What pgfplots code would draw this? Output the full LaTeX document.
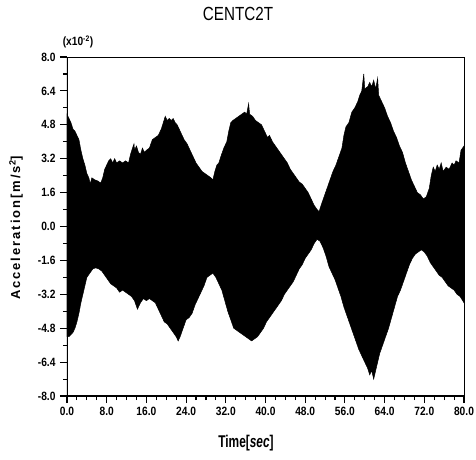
\documentclass[border=0pt]{standalone}
\usepackage{fontspec}
\setmainfont{Liberation Sans}
\newfontfamily\tickfont[FakeStretch=0.85]{Liberation Sans}
\newfontfamily\timefont[FakeStretch=0.7]{Liberation Sans}
\newfontfamily\titlefont[FakeStretch=0.8]{Liberation Sans}
\newfontfamily\labfont[LetterSpace=15]{Liberation Sans}
\usepackage{pgfplots}
\pgfplotsset{compat=1.18}
\begin{document}
\begin{tikzpicture}
\begin{axis}[
  scale only axis, width=397pt, height=339pt,
  xmin=0, xmax=80, ymin=-8, ymax=8,
  xtick={0,8,16,24,32,40,48,56,64,72,80},
  xticklabels={0.0,8.0,16.0,24.0,32.0,40.0,48.0,56.0,64.0,72.0,80.0},
  ytick={-8,-6.4,-4.8,-3.2,-1.6,0,1.6,3.2,4.8,6.4,8},
  yticklabels={-8.0,-6.4,-4.8,-3.2,-1.6,0.0,1.6,3.2,4.8,6.4,8.0},
  minor x tick num=3, minor y tick num=1,
  tick align=outside, xtick pos=bottom, ytick pos=left,
  major tick length=7pt, minor tick length=4pt,
  every tick/.style={black, line width=1.1pt},
  axis line style={line width=0.8pt},
  ticklabel style={font=\tickfont\bfseries\fontsize{12}{12}\selectfont},
  xticklabel style={yshift=-1pt},
  yticklabel style={xshift=-1pt},
  clip=true,
]
\addplot[fill=black, draw=black, line width=0.5pt] coordinates {
(0,5.3)(0.4,5.1)(0.8,4.9)(1.2,4.6)(1.6,4.5)(2.0,4.3)(2.4,4.1)(2.8,3.6)(3.2,3.2)(3.6,2.9)
(4.0,2.5)(4.4,2.3)(4.7,2.0)(5.0,2.3)(5.6,2.2)(6.2,2.15)(6.8,2.05)(7.2,2.3)(7.6,2.7)(8.0,2.9)(8.4,3.1)
(8.8,3.2)(9.2,3.0)(9.6,3.2)(10.0,3.0)(10.6,3.1)(11.2,3.0)(11.8,3.1)(12.4,3.0)(12.8,3.4)(13.2,3.7)
(13.5,3.9)(13.6,3.6)(14.0,3.8)(14.4,3.5)(14.8,3.4)(15.2,3.7)(15.6,3.5)(16.0,3.6)(16.6,3.7)(17.2,4.1)(17.8,4.2)
(18.4,4.3)(19.0,4.6)(19.4,4.9)(19.8,5.2)(20.2,5.0)(20.6,5.1)(21.0,5.0)(21.4,5.1)(21.8,4.9)(22.2,4.8)
(22.6,4.6)(23.0,4.4)(23.6,4.1)(24.2,3.9)(24.8,3.6)(25.4,3.3)(26.0,3.0)(26.6,2.8)(27.2,2.6)(27.8,2.5)
(28.4,2.4)(29.0,2.3)(29.4,2.2)(29.8,2.6)(30.2,2.9)(30.6,3.0)(31.0,3.3)(31.6,3.7)(32.2,4.0)(32.6,4.5)
(33.0,4.9)(33.4,5.0)(34.0,5.1)(34.6,5.2)(35.2,5.3)(35.8,5.4)(36.2,5.3)(36.6,5.8)(36.8,5.3)(37.4,5.2)
(38.0,5.0)(38.6,4.9)(39.2,4.8)(39.8,4.5)(40.4,4.2)(40.8,4.3)(41.4,4.0)(42.0,3.8)(42.6,3.6)(43.2,3.4)
(43.8,3.2)(44.4,3.0)(45.0,2.7)(45.6,2.5)(46.2,2.3)(46.8,2.1)(47.4,2.0)(48.0,1.8)(48.6,1.6)(49.2,1.3)
(49.8,1.0)(50.4,0.8)(50.8,0.7)(51.2,1.0)(51.8,1.4)(52.4,1.8)(53.0,2.2)(53.6,2.6)(54.2,2.9)(54.8,3.3)
(55.4,3.7)(55.8,4.3)(56.2,4.7)(56.8,4.9)(57.4,5.4)(58.0,5.6)(58.6,5.9)(59.0,6.2)(59.4,6.4)(59.8,7.2)
(60.0,6.5)(60.6,6.6)(61.0,6.8)(61.4,6.6)(61.8,6.9)(62.2,6.5)(62.6,7.0)(62.8,6.2)(63.4,5.9)(64.0,5.6)
(64.6,5.2)(65.2,4.9)(65.8,4.5)(66.4,4.2)(67.0,3.8)(67.6,3.5)(68.2,3.0)(68.8,2.6)(69.4,2.2)(70.0,1.9)
(70.6,1.6)(71.2,1.5)(71.8,1.3)(72.4,1.4)(73.0,1.8)(73.4,2.4)(73.8,2.8)(74.2,2.6)(74.6,2.9)(75.0,2.7)
(75.4,3.0)(75.8,2.6)(76.4,2.8)(77.0,2.7)(77.6,3.0)(78.0,2.9)(78.4,3.1)(79.0,3.0)(79.4,3.6)(80,3.8)
(80,-3.6)(79.2,-3.3)(78.6,-3.2)(78.0,-3.0)(77.4,-2.9)(76.8,-2.8)(76.2,-2.6)(75.6,-2.4)(75.0,-2.3)(74.4,-2.1)
(73.8,-1.9)(73.2,-1.7)(72.6,-1.4)(72.0,-1.2)(71.4,-1.1)(70.8,-1.2)(70.2,-1.3)(69.6,-1.5)(69.0,-1.8)(68.4,-2.2)
(67.8,-2.6)(67.2,-3.0)(66.6,-3.3)(66.0,-3.8)(65.4,-4.3)(64.8,-4.8)(64.2,-5.2)(63.6,-5.6)(63.0,-6.0)(62.4,-6.6)
(61.8,-7.2)(61.4,-6.8)(61.0,-7.0)(60.6,-6.7)(60.0,-6.4)(59.4,-6.1)(58.8,-5.8)(58.2,-5.4)(57.6,-5.0)(57.0,-4.6)
(56.4,-4.2)(55.8,-3.8)(55.2,-3.3)(54.6,-2.9)(54.0,-2.5)(53.4,-2.2)(52.8,-1.9)(52.2,-1.4)(51.6,-1.0)(51.0,-0.7)
(50.4,-0.6)(49.8,-0.8)(49.2,-1.1)(48.6,-1.3)(48.0,-1.5)(47.4,-1.8)(46.8,-2.0)(46.2,-2.3)(45.6,-2.6)(45.0,-2.8)
(44.4,-3.0)(43.8,-3.2)(43.2,-3.5)(42.6,-3.7)(42.0,-3.9)(41.4,-4.1)(40.8,-4.3)(40.2,-4.5)(39.6,-4.8)(39.0,-5.0)
(38.4,-5.2)(37.8,-5.3)(37.2,-5.4)(36.6,-5.3)(36.0,-5.2)(35.4,-5.1)(34.8,-5.0)(34.2,-4.9)(33.6,-4.8)(33.0,-4.4)
(32.4,-4.0)(31.8,-3.5)(31.2,-3.0)(30.6,-2.7)(30.0,-2.4)(29.4,-2.2)(28.8,-2.3)(28.2,-2.4)(27.6,-2.8)(27.0,-3.1)
(26.4,-3.4)(25.8,-3.7)(25.2,-4.1)(24.6,-4.3)(24.0,-4.4)(23.4,-4.8)(22.8,-5.2)(22.4,-5.4)(22.0,-5.2)(21.4,-5.0)
(20.8,-4.8)(20.2,-4.6)(19.6,-4.5)(19.0,-4.2)(18.4,-3.9)(17.8,-3.6)(17.2,-3.5)(16.6,-3.4)(16.0,-3.5)(15.4,-3.4)
(14.8,-3.6)(14.2,-3.9)(13.6,-3.5)(13.0,-3.3)(12.4,-3.2)(11.8,-3.1)(11.2,-3.0)(10.6,-3.1)(10.0,-2.9)(9.4,-2.8)
(8.8,-2.7)(8.2,-2.5)(7.6,-2.3)(7.0,-2.1)(6.4,-2.0)(5.8,-1.95)(5.2,-2.0)(4.6,-2.2)(4.0,-2.4)(3.4,-3.0)
(2.8,-3.6)(2.4,-4.1)(2.0,-4.5)(1.6,-4.8)(1.2,-5.0)(0.8,-5.1)(0.4,-5.2)(0,-5.2)
} -- cycle;
\draw[line width=1.8pt] (rel axis cs:0,1) -- (rel axis cs:0,0) -- (rel axis cs:1,0);
\end{axis}
\node[font=\titlefont\fontsize{19}{19}\selectfont] at (171pt,382.5pt) {CENTC2T};
\node[font=\tickfont\bfseries\fontsize{12}{12}\selectfont] at (11pt,354pt) {(x10\textsuperscript{-2})};
\node[font=\timefont\bfseries\fontsize{17}{17}\selectfont] at (179pt,-47pt) {Time[\textit{sec}]};
\node[rotate=90, font=\labfont\bfseries\fontsize{13}{13}\selectfont] at (-51pt,168pt) {Acceleration[m/s\textsuperscript{2}]};
\pgfresetboundingbox
\path[use as bounding box] (-67pt,-63pt) rectangle (409pt,396pt);
\end{tikzpicture}
\end{document}
